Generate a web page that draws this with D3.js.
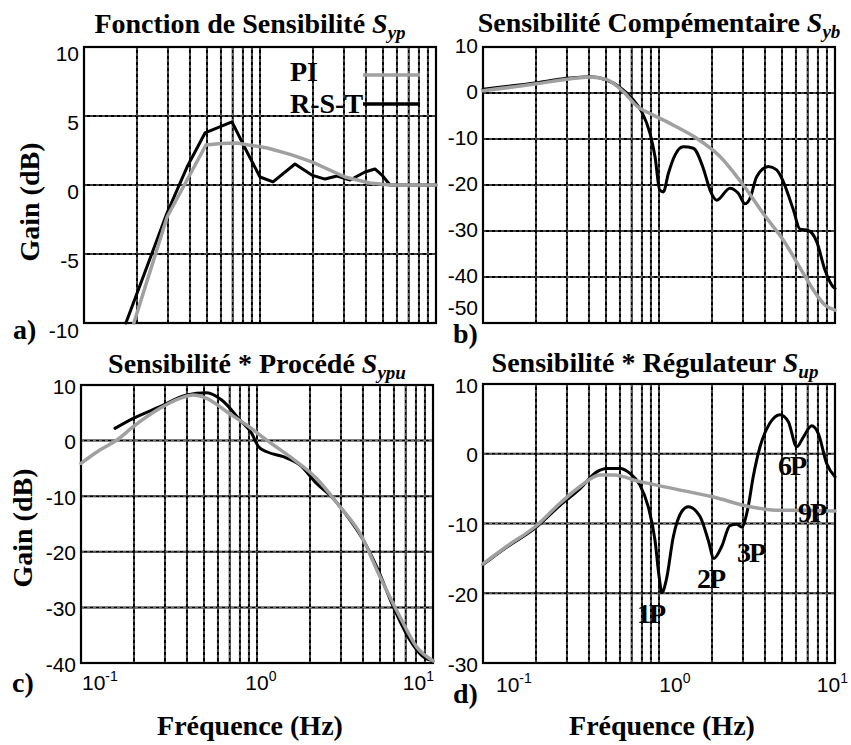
<!DOCTYPE html>
<html>
<head>
<meta charset="utf-8">
<script src="https://cdn.jsdelivr.net/npm/d3@7/dist/d3.min.js"></script>
<style>
  html, body { margin: 0; padding: 0; background: #fff; }
  svg { display: block; }
</style>
</head>
<body>
<svg id="chart" width="851" height="745"></svg>
<script>
// ---------- data ----------
// log grid: multipliers inside each decade
const gridMultipliers = [2, 3, 4, 5, 6, 7, 8, 9];
const gridDecades = [0.1, 1];
const xTickValues = [0.1, 1, 10];
const xTickExponents = ["-1", "0", "1"];

// gain tick values of each panel (dB)
const sypTicks  = [-10, -5, 0, 5, 10];
const sybTicks  = [-50, -40, -30, -20, -10, 0, 10];
const sypuTicks = [-40, -30, -20, -10, 0, 10];
const supTicks  = [-30, -20, -10, 0, 10];

// [frequency (Hz), gain (dB)]
const sypRST = [[0.173,-10],[0.297,-2.0],[0.385,1.3],[0.487,3.77],[0.693,4.57],[0.844,2.39],[1.0,0.58],[1.186,0.22],[1.58,1.52],[1.97,0.72],[2.34,0.43],[2.74,0.65],[3.25,0.36],[3.95,0.94],[4.5,1.16],[4.93,0.72],[5.48,0.0],[10,0]];
const sypPI  = [[0.192,-10],[0.297,-2.3],[0.493,2.9],[0.6,3.0],[0.74,3.04],[1.1,2.68],[1.5,2.2],[1.97,1.67],[3.04,0.58],[4.2,0.15],[5.48,0],[10,0]];

const sybRST = [[0.1,0.8],[0.202,2.24],[0.299,3.2],[0.405,3.55],[0.505,2.83],[0.599,1.24],[0.715,-1.52],[0.797,-4.06],[0.889,-8.77],[0.949,-13.8],[1.01,-21.1],[1.058,-21.5],[1.13,-17.5],[1.233,-13.5],[1.374,-11.7],[1.566,-12.0],[1.786,-16.4],[1.95,-21.1],[2.13,-23.3],[2.53,-20.7],[2.82,-21.8],[3.08,-24.1],[3.29,-22.9],[3.59,-18.2],[4.18,-16.0],[4.66,-16.7],[5.09,-19.3],[5.8,-25.4],[6.32,-29.6],[7.05,-29.9],[7.87,-32.3],[8.77,-38.5],[9.57,-41.7],[10,-42.5]];
const sybPI  = [[0.1,0.5],[0.202,2.0],[0.3,3.0],[0.405,3.5],[0.505,2.9],[0.627,0.3],[0.747,-2.83],[0.929,-4.8],[1.206,-7.0],[1.637,-9.85],[2.22,-13.8],[3.01,-20.0],[3.91,-26.2],[5.09,-32.0],[6.61,-39.2],[7.87,-43.9],[8.77,-46.1],[10,-47.2]];

const sypuRST = [[0.156,2.2],[0.198,4.0],[0.281,6.1],[0.398,8.2],[0.518,8.6],[0.63,7.3],[0.8,3.7],[0.933,1.3],[1.02,-1.1],[1.135,-2.0],[1.41,-2.9],[1.755,-4.4],[2.18,-7.7],[2.71,-10.4],[3.38,-14.3],[4.02,-17.9],[4.79,-22.7],[5.95,-29.9],[7.4,-35.9],[8.8,-38.9],[10,-39.6]];
const sypuPI  = [[0.1,-4.1],[0.128,-1.7],[0.16,0.1],[0.198,2.5],[0.281,5.8],[0.365,7.6],[0.434,8.2],[0.518,7.6],[0.673,5.2],[0.873,2.8],[1.135,0.1],[1.54,-2.9],[2.18,-6.8],[2.96,-11.9],[3.85,-16.7],[5.0,-24.5],[6.49,-31.7],[8.07,-37.1],[10,-39.6]];

const supRST = [[0.1,-15.9],[0.136,-13.4],[0.197,-10.7],[0.274,-7.4],[0.356,-5.0],[0.443,-2.6],[0.505,-2.1],[0.6,-2.1],[0.684,-2.8],[0.78,-4.5],[0.869,-7.6],[0.949,-12.4],[1.0,-17.5],[1.04,-19.9],[1.1,-18.1],[1.206,-11.9],[1.345,-8.3],[1.467,-7.6],[1.71,-9.0],[1.905,-12.4],[2.05,-15.0],[2.27,-13.3],[2.53,-10.3],[2.76,-10.1],[2.95,-10.5],[3.2,-7.8],[3.43,-3.3],[3.75,1.0],[4.27,4.4],[4.87,5.6],[5.43,4.6],[6.06,1.0],[6.61,2.4],[7.37,4.0],[8.04,2.9],[8.97,-1.4],[10,-3.3]];
const supPI  = [[0.1,-15.8],[0.136,-13.3],[0.197,-10.5],[0.274,-7.1],[0.356,-4.7],[0.462,-3.05],[0.55,-3.05],[0.78,-4.0],[1.206,-5.0],[2.04,-6.2],[3.29,-7.6],[4.87,-8.1],[6.61,-8.1],[10,-8.2]];

const seriesNames = ["PI", "R-S-T"];
// harmonic markers on the controller sensitivity: [label, frequency, gain at text baseline]
const harmonicNotes = [["1P",0.75,-24.3],["2P",1.644,-19.25],["3P",2.77,-15.5],["6P",4.74,-3.05],["9P",6.17,-9.8]];

// ---------- drawing ----------
const SERIF = "'Liberation Serif','Times New Roman',serif";
const SANS = "'Liberation Sans',Arial,sans-serif";
const GREY = "#a0a0a0";
const PW = 352;

const svg = d3.select("#chart");

const panels = [
  { id: "a", left: 84,  top: 47,  bottom: 323, domain: [-10, 10], ticks: sypTicks,  pi: sypPI,  rst: sypRST,
    curve: d3.curveLinear, title: ["Fonction de Sensibilité ", "S", "yp"], titleX: 250, titleY: 33,
    letter: [13, 339], tickShift: v => (v === -10 ? 7 : 6) },
  { id: "b", left: 483, top: 47,  bottom: 323, domain: [-50, 10], ticks: sybTicks,  pi: sybPI,  rst: sybRST,
    curve: d3.curveMonotoneX, title: ["Sensibilité Compémentaire ", "S", "yb"], titleX: 659, titleY: 32,
    letter: [453, 343], tickShift: v => (v === -50 ? -16 : -2) },
  { id: "c", left: 81,  top: 385, bottom: 663, domain: [-40, 10], ticks: sypuTicks, pi: sypuPI, rst: sypuRST,
    curve: d3.curveMonotoneX, title: ["Sensibilité * Procédé ", "S", "ypu"], titleX: 257, titleY: 373,
    letter: [12, 692], tickShift: v => 1, xLabels: { dx: 0, y: 690 }, xTitle: [250, 735], yTitle: [32, 528] },
  { id: "d", left: 483, top: 384, bottom: 663, domain: [-30, 10], ticks: supTicks,  pi: supPI,  rst: supRST,
    curve: d3.curveMonotoneX, title: ["Sensibilité * Régulateur ", "S", "up"], titleX: 655, titleY: 372,
    letter: [453, 703], tickShift: v => 1, xLabels: { dx: 12, y: 692 }, xTitle: [662, 735] }
];
panels[0].yTitle = [39, 202];

const gridFreqs = [];
gridDecades.forEach(d => gridMultipliers.forEach(m => gridFreqs.push(+(m * d).toFixed(3))));
gridFreqs.push(1);

panels.forEach(p => {
  const right = p.left + PW;
  const x = d3.scaleLog().domain([0.1, 10]).range([p.left, right]);
  const y = d3.scaleLinear().domain(p.domain).range([p.bottom, p.top]);
  const g = svg.append("g").attr("class", "panel-" + p.id);

  // grid: black rule with a fine white dash running through it
  const grid = g.append("g");
  const vlines = gridFreqs.map(f => ({ x1: x(f), x2: x(f), y1: p.top, y2: p.bottom }));
  const hlines = p.ticks.filter(v => v !== p.domain[0] && v !== p.domain[1])
    .map(v => ({ x1: p.left, x2: right, y1: y(v), y2: y(v) }));
  const all = vlines.concat(hlines);
  grid.selectAll("line.gb").data(all).join("line")
    .attr("x1", d => d.x1).attr("x2", d => d.x2).attr("y1", d => d.y1).attr("y2", d => d.y2)
    .attr("stroke", "#000").attr("stroke-width", 2);
  grid.selectAll("line.gw").data(all).join("line")
    .attr("x1", d => d.x1).attr("x2", d => d.x2).attr("y1", d => d.y1).attr("y2", d => d.y2)
    .attr("stroke", "#fff").attr("stroke-width", 0.5).attr("stroke-dasharray", "3,3");

  // frame
  g.append("rect").attr("x", p.left).attr("y", p.top).attr("width", PW).attr("height", p.bottom - p.top)
    .attr("fill", "none").attr("stroke", "#000").attr("stroke-width", 2.2);

  // curves
  const clipId = "clip-" + p.id;
  svg.append("clipPath").attr("id", clipId).append("rect")
    .attr("x", p.left - 2).attr("y", p.top - 2).attr("width", PW + 4).attr("height", p.bottom - p.top + 4);
  const line = d3.line().x(d => x(d[0])).y(d => y(d[1])).curve(p.curve);
  const cg = g.append("g").attr("clip-path", `url(#${clipId})`);
  cg.append("path").datum(p.rst).attr("d", line).attr("fill", "none")
    .attr("stroke", "#000").attr("stroke-width", 3).attr("stroke-linejoin", "round").attr("stroke-linecap", "round");
  cg.append("path").datum(p.pi).attr("d", line).attr("fill", "none")
    .attr("stroke", GREY).attr("stroke-width", 3.5).attr("stroke-linejoin", "round").attr("stroke-linecap", "round");

  // y tick labels
  g.selectAll("text.yt").data(p.ticks).join("text")
    .attr("x", p.left - 5).attr("y", v => y(v) + p.tickShift(v))
    .attr("dominant-baseline", "central").attr("text-anchor", "end")
    .attr("font-family", SANS).attr("font-size", 21).attr("fill", "#000")
    .text(v => v);

  // title with italic S and subscript
  const t = g.append("text").attr("x", p.titleX).attr("y", p.titleY).attr("text-anchor", "middle")
    .attr("font-family", SERIF).attr("font-weight", "bold").attr("font-size", 28).attr("fill", "#000");
  t.append("tspan").text(p.title[0]);
  t.append("tspan").attr("font-style", "italic").text(p.title[1]);
  t.append("tspan").attr("font-style", "italic").attr("font-size", 19).attr("dy", 6).text(p.title[2]);

  // panel letter
  g.append("text").attr("x", p.letter[0]).attr("y", p.letter[1])
    .attr("font-family", SERIF).attr("font-weight", "bold").attr("font-size", 28).text(p.id + ")");

  // y axis title
  if (p.yTitle) {
    g.append("text").attr("transform", `translate(${p.yTitle[0]},${p.yTitle[1]}) rotate(-90)`)
      .attr("text-anchor", "middle").attr("font-family", SERIF).attr("font-weight", "bold")
      .attr("font-size", 28).text("Gain (dB)");
  }

  // x tick labels (powers of ten) and x title
  if (p.xLabels) {
    xTickValues.forEach((v, i) => {
      const lab = g.append("text").attr("y", p.xLabels.y)
        .attr("font-family", SANS).attr("font-size", 21).attr("fill", "#000");
      const base = lab.append("tspan").text("10");
      lab.append("tspan").attr("font-size", 14).attr("dy", -9).text(xTickExponents[i]);
      const wBase = base.node().getComputedTextLength();
      const wAll = lab.node().getComputedTextLength();
      let lx = x(v) - wBase / 2;
      if (lx < p.left + 1) lx = p.left + 1;
      if (lx + wAll > right + 1) lx = right + 1 - wAll;
      lab.attr("x", lx + p.xLabels.dx);
    });
    g.append("text").attr("x", p.xTitle[0]).attr("y", p.xTitle[1]).attr("text-anchor", "middle")
      .attr("font-family", SERIF).attr("font-weight", "bold").attr("font-size", 28).text("Fréquence (Hz)");
  }

  // legend (panel a) and harmonic notes (panel d)
  if (p.id === "a") {
    const lg = g.append("g");
    const colors = [GREY, "#000"];
    seriesNames.forEach((name, i) => {
      const by = [81, 113][i];
      const ly = [75, 104][i];
      lg.append("text").attr("x", 290).attr("y", by).attr("font-family", SERIF)
        .attr("font-weight", "bold").attr("font-size", 28).text(name);
      lg.append("line").attr("x1", 363).attr("x2", 420).attr("y1", ly).attr("y2", ly)
        .attr("stroke", colors[i]).attr("stroke-width", 3.5);
    });
  }
  if (p.id === "d") {
    g.selectAll("text.note").data(harmonicNotes).join("text")
      .attr("x", d => x(d[1])).attr("y", d => y(d[2]))
      .attr("font-family", SERIF).attr("font-weight", "bold").attr("font-size", 28)
      .attr("letter-spacing", -2).text(d => d[0]);
  }
});
</script>
</body>
</html>
